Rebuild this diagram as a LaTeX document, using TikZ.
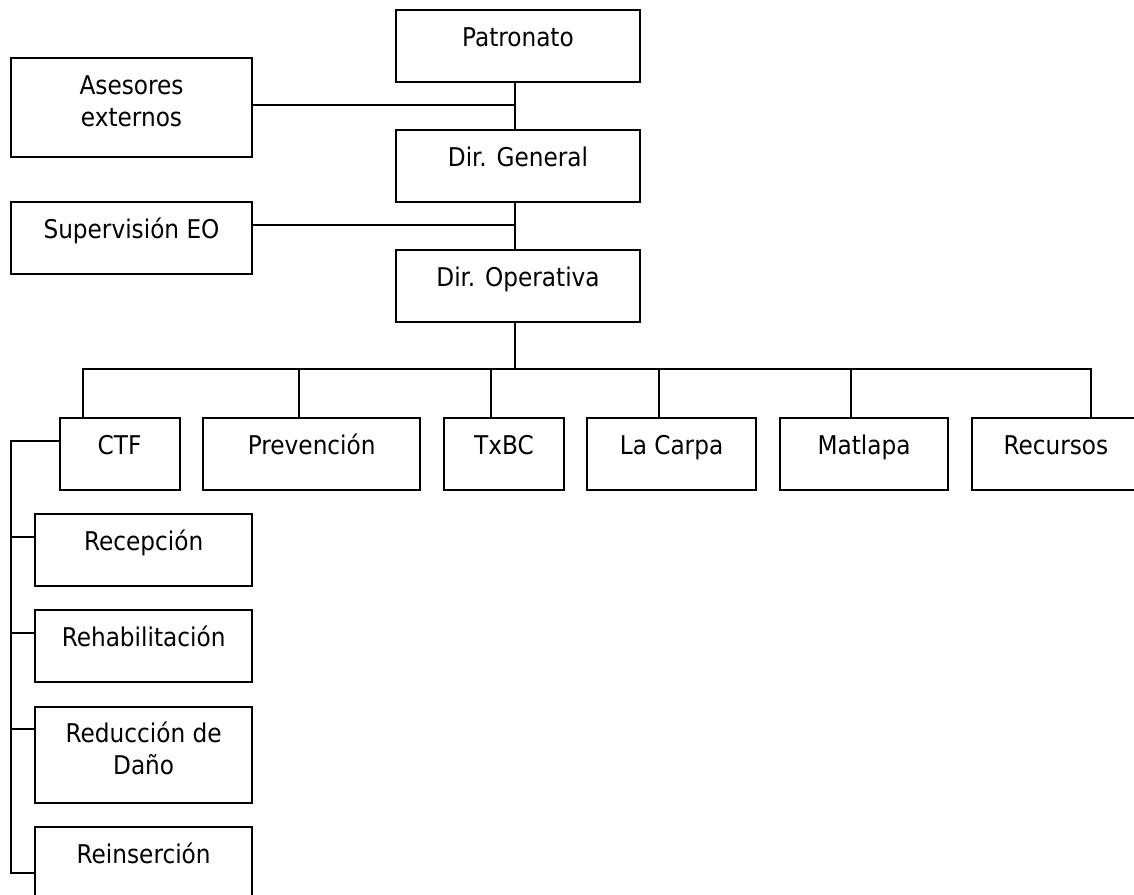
\documentclass[tikz,border=0pt]{standalone}
\usepackage{fontspec}
\setmainfont{DejaVu Sans Condensed}
\usetikzlibrary{calc}
\newcommand\orgbox[7][37.5]{%
  \node[box, minimum width={(#5-#3)*1pt}, minimum height={(#6-#4)*1pt}] (#2) at (#3,#4) {};
  \node[lbl] (#2-t) at ($(#2.north)+(0,#1)$) {#7};}
\begin{document}
\begin{tikzpicture}[x=1pt,y=-1pt,
  box/.style={draw=black, line width=2pt, rectangle, inner sep=0pt, anchor=north west},
  lbl/.style={anchor=base, inner sep=0pt, align=center, font=\fontsize{25.8}{32}\selectfont},
  wire/.style={draw=black, line width=2pt}]
\useasboundingbox (0,0) rectangle (1134,894);
\clip (0,0) rectangle (1134,894);
\fill[white] (0,0) rectangle (1134,894);

% boxes
\orgbox{pat}{394.7}{9}{639.3}{80.7}{Patronato}
\orgbox{dg}{394.7}{129.3}{639.3}{200.7}{Dir. General}
\orgbox{dop}{394.7}{249}{639.3}{321}{Dir. Operativa}
\orgbox[69.7]{ase}{10.3}{57}{250.7}{156}{Asesores\\externos}
\orgbox{sup}{10.3}{201}{250.7}{272.7}{Supervisión EO}
\orgbox{ctf}{58.5}{416.7}{178.7}{489}{CTF}
\orgbox{prev}{202.4}{416.7}{419.1}{489}{Prevención}
\orgbox{txbc}{442.9}{416.7}{563}{489}{TxBC}
\orgbox{carpa}{586.4}{416.7}{754.7}{489}{La Carpa}
\orgbox{mat}{778.9}{416.7}{947.3}{489}{Matlapa}
\orgbox{recu}{970.7}{416.7}{1139.1}{489}{Recursos}
\orgbox{recep}{34.3}{513.3}{251}{585.3}{Recepción}
\orgbox{rehab}{34.3}{609.3}{251}{681.3}{Rehabilitación}
\orgbox[68.6]{redu}{34.3}{705.7}{251}{801.7}{Reducción de\\Daño}
\orgbox{reins}{34.3}{825.7}{251}{897.7}{Reinserción}

% spine
\coordinate (bus) at (515,369.3);
\draw[wire] (pat.south -| bus) -- (dg.north -| bus);
\draw[wire] (dg.south -| bus) -- (dop.north -| bus);
\draw[wire] (dop.south -| bus) -- (bus);
\draw[wire] ($(ase.north east)+(0,48)$) coordinate (aseE) -- (aseE -| bus);
\draw[wire] ($(sup.north east)+(0,24.3)$) coordinate (supE) -- (supE -| bus);

% bus to second level
\coordinate (dctf) at ($(ctf.north west)+(24.1,0)$);
\coordinate (dprev) at ($(prev.north west)+(96.5,0)$);
\coordinate (dtxbc) at ($(txbc.north west)+(48.1,0)$);
\coordinate (dcarpa) at ($(carpa.north west)+(72.8,0)$);
\coordinate (dmat) at ($(mat.north west)+(72.1,0)$);
\coordinate (drecu) at ($(recu.north west)+(120,0)$);
\draw[wire] (dctf) |- (bus) -| (drecu);
\draw[wire] (dprev) -- (dprev |- bus);
\draw[wire] (dtxbc) -- (dtxbc |- bus);
\draw[wire] (dcarpa) -- (dcarpa |- bus);
\draw[wire] (dmat) -- (dmat |- bus);

% CTF sub-tree
\coordinate (lctf) at ($(ctf.north west)+(0,24)$);
\coordinate (lrecep) at ($(recep.north west)+(0,24)$);
\coordinate (lrehab) at ($(rehab.north west)+(0,24)$);
\coordinate (lredu) at ($(redu.north west)+(0,23.6)$);
\coordinate (lreins) at ($(reins.north west)+(0,47.6)$);
\draw[wire] (lctf) -- (10.7,0 |- lctf) coordinate (spL) -- (spL |- lreins) -- (lreins);
\draw[wire] (lrecep) -- (lrecep -| spL);
\draw[wire] (lrehab) -- (lrehab -| spL);
\draw[wire] (lredu) -- (lredu -| spL);
\end{tikzpicture}
\end{document}
